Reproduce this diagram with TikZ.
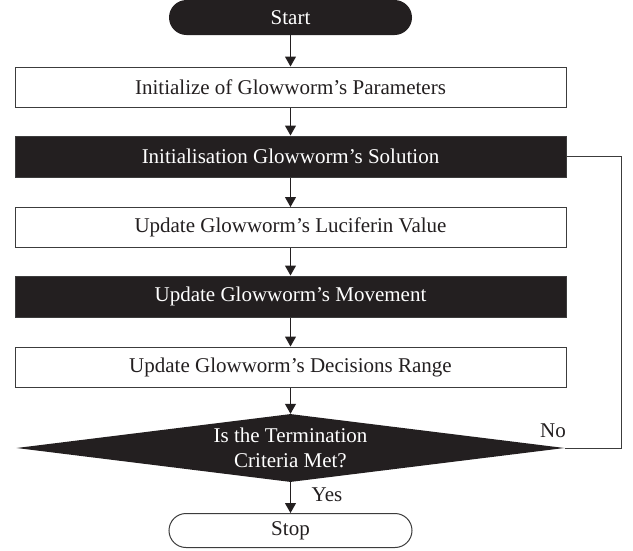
\documentclass[tikz,border=0pt]{standalone}
\usepackage{fontspec}
\setmainfont{Liberation Serif}
\usetikzlibrary{arrows.meta,shapes.geometric}
\definecolor{ink}{HTML}{231F20}
\definecolor{edge}{HTML}{3C3C3C}
\begin{document}
\begin{tikzpicture}[x=1pt,y=-1pt,
  font=\fontsize{21}{25}\selectfont,
  whitebox/.style={draw=edge,line width=1pt,fill=white,text=ink,minimum width=551pt,minimum height=40pt,inner sep=0pt},
  blackbox/.style={draw=edge,line width=1pt,fill=ink,text=white,minimum width=551pt,minimum height=41pt,inner sep=0pt},
  flow/.style={draw=ink,line width=1pt,-{Triangle[width=11pt,length=10pt]}},
  loopline/.style={draw=edge,line width=1pt},
  lbl/.style={text=ink,inner sep=0pt}]
\useasboundingbox (0,0) rectangle (633,550);
\node[fill=ink,text=white,rounded corners=17.5pt,minimum width=243pt,minimum height=35pt,inner sep=0pt] (start) at (290.5,17.5) {Start};
\node[whitebox] (b1) at (290.5,87) {Initialize of Glowworm’s Parameters};
\node[blackbox] (b2) at (290.5,156.5) {Initialisation Glowworm’s Solution};
\node[whitebox] (b3) at (290.5,227.5) {Update Glowworm’s Luciferin Value};
\node[blackbox] (b4) at (290.5,296.5) {Update Glowworm’s Movement};
\node[whitebox] (b5) at (290.5,367) {Update Glowworm’s Decisions Range};
\node[diamond,fill=ink,minimum width=548pt,minimum height=68pt,inner sep=0pt,
  label={[text=white,align=center,font=\fontsize{21}{25}\selectfont]center:Is the Termination\\Criteria Met?}] (dia) at (290.5,448) {};
\node[draw=edge,line width=1pt,fill=white,text=ink,rounded corners=17pt,minimum width=243pt,minimum height=34pt,inner sep=0pt] (stop) at (290.5,530.5) {Stop};
\draw[flow] (start) -- (b1);
\draw[flow] (b1) -- (b2);
\draw[flow] (b2) -- (b3);
\draw[flow] (b3) -- (b4);
\draw[flow] (b4) -- (b5);
\draw[flow] (b5) -- (dia);
\draw[flow] (dia) -- (stop);
\coordinate (loopc) at (621,448);
\draw[loopline] (dia.east) -- (loopc) |- (b2.east);
\node[lbl] (no) at (553,431) {No};
\node[lbl] (yes) at (327,495) {Yes};
\end{tikzpicture}
\end{document}
